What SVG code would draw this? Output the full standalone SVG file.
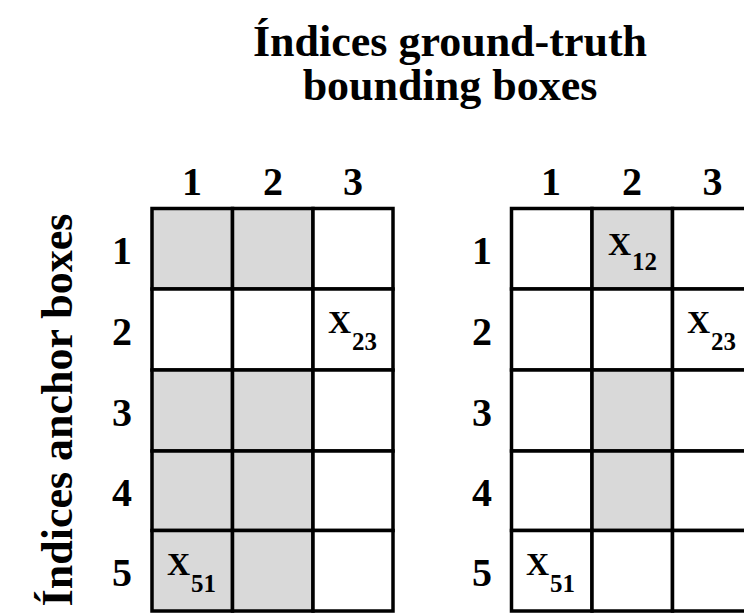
<svg xmlns="http://www.w3.org/2000/svg" width="744" height="614" viewBox="0 0 744 614">
  <style>
    .t { font-family: "Liberation Serif", "Times New Roman", serif; font-weight: bold; fill: #000; }
    .title { font-size: 44px; }
    .lab { font-size: 40px; text-anchor: middle; }
    .x { font-size: 32px; }
    .sub { font-size: 25px; }
    .cell { stroke: #000; stroke-width: 3.5; }
    .g { fill: #d9d9d9; }
    .w { fill: #ffffff; }
  </style>
  <rect width="744" height="614" fill="#ffffff"/>

  <g id="title">
    <text class="t title" x="450" y="56" text-anchor="middle">Índices ground-truth</text>
    <text class="t title" x="450" y="100" text-anchor="middle">bounding boxes</text>
  </g>
  <g id="ylabel">
    <text class="t title" transform="translate(72,410) rotate(-90)" text-anchor="middle">Índices anchor boxes</text>
  </g>

  <g id="grid-left">
    <rect class="cell g" x="152" y="208.5" width="80.5" height="80.5"/>
    <rect class="cell g" x="232.5" y="208.5" width="80.5" height="80.5"/>
    <rect class="cell w" x="313" y="208.5" width="80" height="80.5"/>
    <rect class="cell w" x="152" y="289" width="80.5" height="81"/>
    <rect class="cell w" x="232.5" y="289" width="80.5" height="81"/>
    <rect class="cell w" x="313" y="289" width="80" height="81"/>
    <rect class="cell g" x="152" y="370" width="80.5" height="81"/>
    <rect class="cell g" x="232.5" y="370" width="80.5" height="81"/>
    <rect class="cell w" x="313" y="370" width="80" height="81"/>
    <rect class="cell g" x="152" y="451" width="80.5" height="79.5"/>
    <rect class="cell g" x="232.5" y="451" width="80.5" height="79.5"/>
    <rect class="cell w" x="313" y="451" width="80" height="79.5"/>
    <rect class="cell g" x="152" y="530.5" width="80.5" height="80.5"/>
    <rect class="cell g" x="232.5" y="530.5" width="80.5" height="80.5"/>
    <rect class="cell w" x="313" y="530.5" width="80" height="80.5"/>
    <text class="t lab" x="192" y="195">1</text>
    <text class="t lab" x="273" y="195">2</text>
    <text class="t lab" x="353" y="195">3</text>
    <text class="t lab" x="122" y="264">1</text>
    <text class="t lab" x="122" y="345">2</text>
    <text class="t lab" x="122" y="426">3</text>
    <text class="t lab" x="122" y="506">4</text>
    <text class="t lab" x="122" y="586">5</text>
    <text class="t x" x="328" y="333">X<tspan class="sub" dy="17" dx="1">23</tspan></text>
    <text class="t x" x="167" y="575">X<tspan class="sub" dy="17" dx="1">51</tspan></text>
  </g>

  <g id="grid-right">
    <rect class="cell w" x="511.5" y="208.5" width="80.5" height="80.5"/>
    <rect class="cell g" x="592" y="208.5" width="80.5" height="80.5"/>
    <rect class="cell w" x="672.5" y="208.5" width="80.5" height="80.5"/>
    <rect class="cell w" x="511.5" y="289" width="80.5" height="81"/>
    <rect class="cell w" x="592" y="289" width="80.5" height="81"/>
    <rect class="cell w" x="672.5" y="289" width="80.5" height="81"/>
    <rect class="cell w" x="511.5" y="370" width="80.5" height="81"/>
    <rect class="cell g" x="592" y="370" width="80.5" height="81"/>
    <rect class="cell w" x="672.5" y="370" width="80.5" height="81"/>
    <rect class="cell w" x="511.5" y="451" width="80.5" height="79.5"/>
    <rect class="cell g" x="592" y="451" width="80.5" height="79.5"/>
    <rect class="cell w" x="672.5" y="451" width="80.5" height="79.5"/>
    <rect class="cell w" x="511.5" y="530.5" width="80.5" height="80.5"/>
    <rect class="cell w" x="592" y="530.5" width="80.5" height="80.5"/>
    <rect class="cell w" x="672.5" y="530.5" width="80.5" height="80.5"/>
    <text class="t lab" x="551" y="195">1</text>
    <text class="t lab" x="632" y="195">2</text>
    <text class="t lab" x="712.5" y="195">3</text>
    <text class="t lab" x="482" y="264">1</text>
    <text class="t lab" x="482" y="345">2</text>
    <text class="t lab" x="482" y="426">3</text>
    <text class="t lab" x="482" y="506">4</text>
    <text class="t lab" x="482" y="586">5</text>
    <text class="t x" x="608" y="255">X<tspan class="sub" dy="15" dx="1">12</tspan></text>
    <text class="t x" x="687" y="333">X<tspan class="sub" dy="17" dx="1">23</tspan></text>
    <text class="t x" x="526" y="575">X<tspan class="sub" dy="17" dx="1">51</tspan></text>
  </g>
</svg>
